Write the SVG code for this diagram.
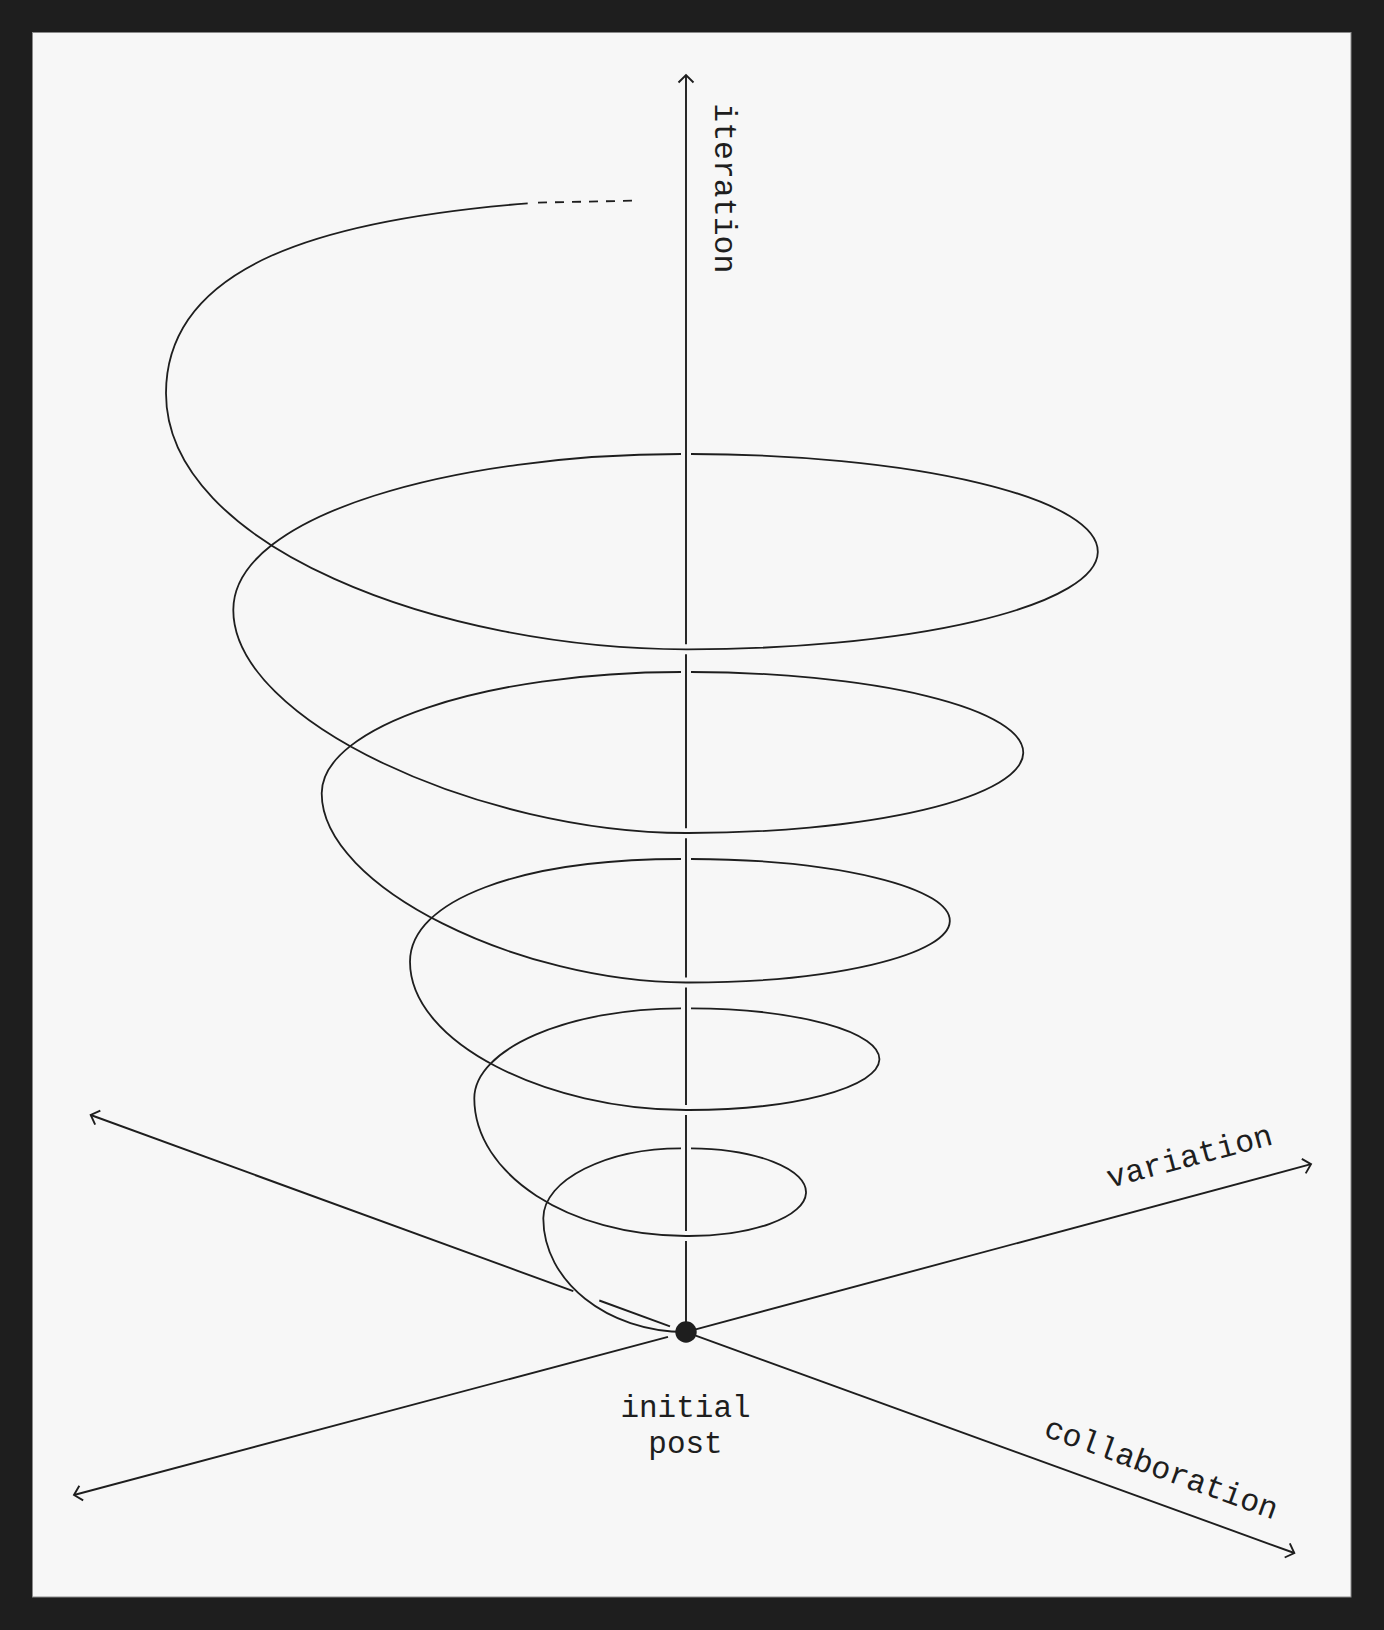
<svg xmlns="http://www.w3.org/2000/svg" width="1384" height="1630" viewBox="0 0 1384 1630">
  <style>
    .ln { fill: none; stroke: #1e1e1e; stroke-width: 1.9; stroke-linecap: butt; }
    .sp { fill: none; stroke: #1e1e1e; stroke-width: 1.8; stroke-linecap: butt; }
    .lbl { font-family: "Liberation Mono", "DejaVu Sans Mono", monospace; font-size: 31.5px; fill: #1e1e1e; }
    .lbl2 { font-size: 31px; }
  </style>
  <defs>
    <marker id="arr" viewBox="-12 -10 14 20" refX="0" refY="0" markerWidth="14" markerHeight="20" markerUnits="userSpaceOnUse" orient="auto-start-reverse" overflow="visible">
      <path d="M-7.5,-7.5 L0,0 L-7.5,7.5" fill="none" stroke="#1e1e1e" stroke-width="1.9" stroke-linejoin="miter"/>
    </marker>
  </defs>

  <g id="frame">
    <rect x="0" y="0" width="1384" height="1630" fill="#1e1e1e"/>
    <rect x="32.5" y="32.5" width="1318.5" height="1564.5" fill="#f7f7f7" stroke="#8a8a8a" stroke-width="1"/>
  </g>

  <g id="connectors">
    <!-- iteration axis (vertical), broken where front arcs pass in front -->
    <path class="ln" d="M686,644.3 L686,75" marker-end="url(#arr)"/>
    <path class="ln" d="M686,654.3 L686,828.3 M686,838.3 L686,977.5 M686,987.5 L686,1105 M686,1115 L686,1231 M686,1241 L686,1324"/>
    <!-- upper-left / collaboration axis -->
    <path class="ln" d="M573.3,1291.2 L90.7,1115" marker-end="url(#arr)"/>
    <path class="ln" d="M599.3,1300.5 L670,1326.3"/>
    <path class="ln" d="M695.7,1335.6 L1294.3,1553" marker-end="url(#arr)"/>
    <!-- lower-left / variation axis -->
    <path class="ln" d="M668,1336.8 L74,1495" marker-end="url(#arr)"/>
    <path class="ln" d="M695.7,1329.4 L1311,1164.2" marker-end="url(#arr)"/>
  </g>

  <g id="spiral">
    <path class="sp" stroke-dasharray="9 8" d="M538,202.6 L632,200.7"/>
    <path class="sp" d="M527.7,203.3 C327.7,219.3 166,263.3 166,393.3
      C166,546.9 441.6,649.3 686,649.3
      A409.3,97.65 0 0 0 691,454
      M681,454 C459.6,454 233.3,513.3 233.3,610
      C233.3,721.5 482.3,833 686,833
      A335,80.5 0 0 0 691,672
      M681,672 C484.8,672 321.7,726.3 321.7,793.3
      C321.7,887.9 522.1,982.5 686,982.5
      A261.3,61.75 0 0 0 691,859
      M681,859 C520.4,859 410,900.1 410,961.7
      C410,1043.3 548,1110 686,1110
      A191,50.85 0 0 0 691,1008.3
      M681,1008.3 C569.1,1008.3 474.3,1048.6 474.3,1098.3
      C474.3,1174.3 569.1,1236 686,1236
      A117.5,43.85 0 0 0 691,1148.3
      M681,1148.3 C607.2,1148.3 543.3,1179.6 543.3,1218.3
      C543.3,1281.1 607.2,1332 686,1332"/>
  </g>

  <g id="initial-post">
    <circle cx="686" cy="1332" r="10.7" fill="#1e1e1e"/>
    <text class="lbl lbl2" text-anchor="middle"><tspan x="685.5" y="1417.3">initial</tspan><tspan x="685.5" y="1452.6">post</tspan></text>
  </g>

  <g id="label-iteration">
    <text class="lbl" text-anchor="middle" transform="translate(714.8,188.3) rotate(90)">iteration</text>
  </g>
  <g id="label-variation">
    <text class="lbl" text-anchor="middle" transform="translate(1192,1166) rotate(-15)">variation</text>
  </g>
  <g id="label-collaboration">
    <text class="lbl" text-anchor="middle" transform="translate(1158,1477.7) rotate(20)">collaboration</text>
  </g>
</svg>
